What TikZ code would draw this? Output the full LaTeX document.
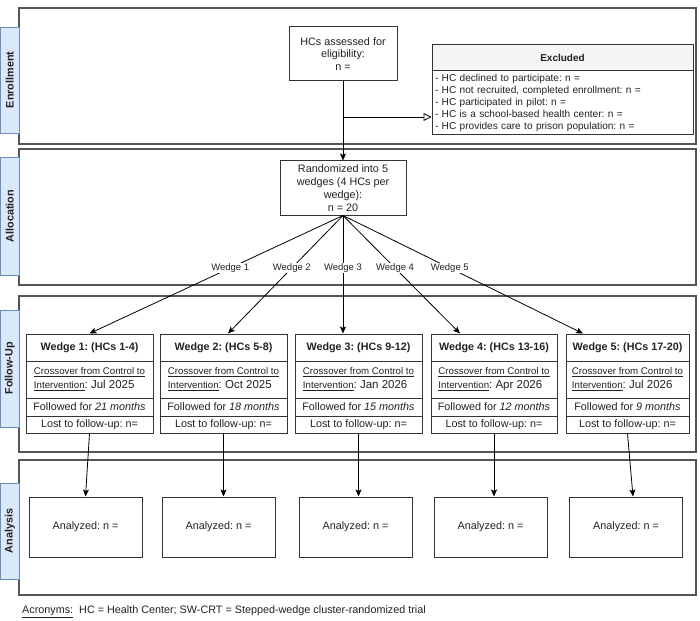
\documentclass[tikz,border=0pt]{standalone}
\usepackage{fontspec}
\setmainfont{Liberation Sans}
\usetikzlibrary{arrows.meta,calc}
\definecolor{tabfill}{HTML}{DAE8FC}
\definecolor{tabdraw}{HTML}{6C8EBF}
\definecolor{lanedraw}{HTML}{555555}
\definecolor{boxdraw}{HTML}{333333}
\definecolor{txt}{HTML}{222222}
\frenchspacing
\begin{document}
\frenchspacing
\begin{tikzpicture}[x=1pt,y=-1pt,
  lane/.style={draw=lanedraw, line width=1.3pt},
  tab/.style={draw=tabdraw, fill=tabfill, line width=0.8pt},
  tablabel/.style={rotate=90, font=\fontsize{10.8}{12}\selectfont\bfseries, text=txt},
  box/.style={draw=boxdraw, line width=1pt, inner sep=0pt, text=txt, align=center,
    font=\fontsize{10.8}{12.5}\selectfont},
  arr/.style={draw=black, line width=0.8pt, -{Stealth[length=7pt,width=6pt,inset=1.5pt]}},
  openarr/.style={draw=black, line width=0.8pt, -{Triangle[open,length=8pt,width=8pt,fill=white]}},
  wlabel/.style={fill=white, inner sep=1pt, font=\fontsize{9.5}{11}\selectfont, text=txt},
]
\useasboundingbox (0,0) rectangle (700,620);
\fill[white] (0,0) rectangle (700,620);

% lanes
\draw[lane] (19,8) rectangle (696,144);
\draw[lane] (19,149) rectangle (696,285);
\draw[lane] (19,296) rectangle (696,452);
\draw[lane] (19,460) rectangle (696,595);

% tabs
\draw[tab] (0.5,27) rectangle (19,133);
\node[tablabel] (labEnr) at (9.75,80) {Enrollment};
\draw[tab] (0.5,157) rectangle (19,275);
\node[tablabel] (labAll) at (9.75,216) {Allocation};
\draw[tab] (0.5,310) rectangle (19,427);
\node[tablabel] (labFol) at (9.75,368.5) {Follow-Up};
\draw[tab] (0.5,483) rectangle (19,579);
\node[tablabel] (labAna) at (9.75,531) {Analysis};

% enrollment
\node[box, minimum width=108pt, minimum height=54pt] (enr) at (343,54)
  {HCs assessed for\\eligibility:\\n =};
\node[box, minimum width=261pt, minimum height=26pt, fill=gray!8,
  font=\fontsize{10}{12}\selectfont\bfseries] (exh) at (562.5,58) {Excluded};
\node[box, minimum width=261pt, minimum height=64pt, text width=255pt, align=left,
  font=\fontsize{10.1}{12}\selectfont] (exl) at (562.5,103)
  {- HC declined to participate: n =\\
   - HC not recruited, completed enrollment: n =\\
   - HC participated in pilot: n =\\
   - HC is a school-based health center: n =\\
   - HC provides care to prison population: n =};

% allocation
\node[box, minimum width=126pt, minimum height=54pt, font=\fontsize{10.8}{13}\selectfont] (rand) at (343,188)
  {Randomized into 5\\wedges (4 HCs per\\wedge):\\n = 20};

\coordinate (br) at (343,117);
\draw[arr] (enr.south) -- (rand.north);
\draw[openarr] (br) -- (br -| exl.west);

% follow-up wedges
\foreach \i/\x/\w/\hc/\date/\fol in {1/89.5/127/1-4/Jul 2025/21, 2/223.5/127/5-8/Oct 2025/18,
  3/358.5/127/9-12/Jan 2026/15, 4/494/126/13-16/Apr 2026/12, 5/627.5/123/17-20/Jul 2026/9}{
  \node[box, minimum width=\w pt, minimum height=27pt, font=\fontsize{10.75}{12}\selectfont\bfseries]
    (h\i) at (\x,347.5) {Wedge \i: (HCs \hc)};
  \node[box, minimum width=\w pt, minimum height=37pt, align=left, font=\fontsize{9.7}{14}\selectfont]
    (c\i) at (\x,379.5) {\underline{Crossover from Control to}\\\underline{Intervention}{\fontsize{11.5}{14}\selectfont: \date}};
  \node[box, minimum width=\w pt, minimum height=18pt] (f\i) at (\x,407) {Followed for \textit{\fol\ months}};
  \node[box, minimum width=\w pt, minimum height=17pt] (l\i) at (\x,424.5) {Lost to follow-up: n=};
}

% wedge connectors
\draw[arr] (rand.south) -- node[wlabel, pos=0.445] (wl1) {Wedge 1} (h1.north);
\draw[arr] (rand.south) -- node[wlabel, pos=0.445] (wl2) {Wedge 2} ([xshift=4.5pt]h2.north);
\draw[arr] (rand.south) -- node[wlabel, pos=0.445] (wl3) {Wedge 3} ([xshift=-15.5pt]h3.north);
\draw[arr] (rand.south) -- node[wlabel, pos=0.445] (wl4) {Wedge 4} ([xshift=-34pt]h4.north);
\draw[arr] (rand.south) -- node[wlabel, pos=0.445] (wl5) {Wedge 5} ([xshift=-44.5pt]h5.north);

% analysis
\foreach \i/\x in {1/85.5, 2/218.5, 3/355.5, 4/490.5, 5/626}{
  \node[box, minimum width=113pt, minimum height=60pt] (a\i) at (\x,527) {Analyzed: n =};
}
\draw[arr] (l1.south) -- (a1.north);
\draw[arr] (l2.south) -- (l2.south |- a2.north);
\draw[arr] (l3.south) -- (l3.south |- a3.north);
\draw[arr] (l4.south) -- (l4.south |- a4.north);
\draw[arr] (l5.south) -- ([xshift=7pt]a5.north);

% acronyms
\node[anchor=west, inner sep=0pt, text=txt, font=\fontsize{10.8}{12}\selectfont] (acr) at (22,612)
  {\underline{Acronyms:}\ \ HC = Health Center; SW-CRT = Stepped-wedge cluster-randomized trial};
\end{tikzpicture}
\end{document}
